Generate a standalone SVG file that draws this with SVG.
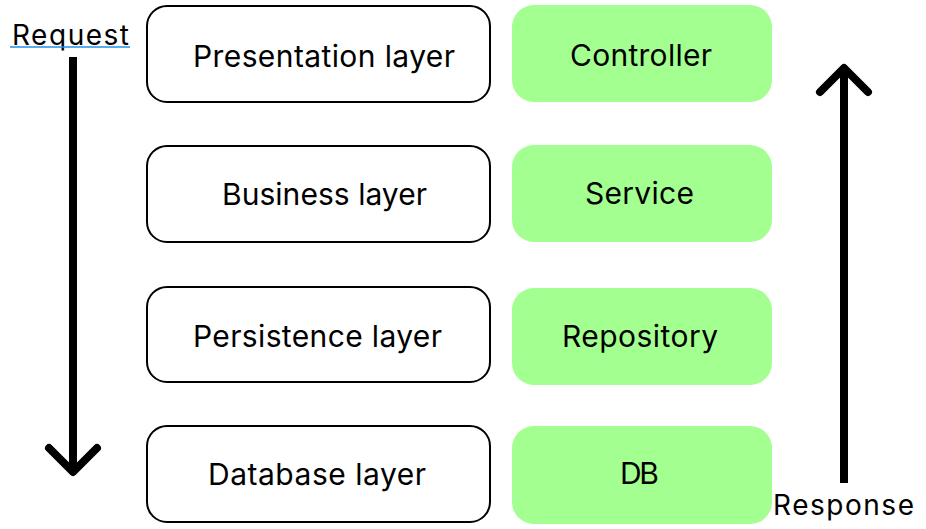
<svg xmlns="http://www.w3.org/2000/svg" width="926" height="529" viewBox="0 0 926 529">
  <style>
    text { font-family: Inter, "Noto Sans", "Liberation Sans", sans-serif; fill: #000; }
    .lbl { font-size: 30px; }
    .side { font-size: 28px; }
    .layer { fill: #ffffff; stroke: #000; stroke-width: 2; }
    .comp { fill: #a2ff90; stroke: none; }
    .arrow { fill: none; stroke: #000; stroke-width: 8; stroke-linecap: round; stroke-linejoin: round; }
    .stem { fill: none; stroke: #000; stroke-width: 8; stroke-linecap: butt; }
  </style>
  <rect width="926" height="529" fill="#ffffff"/>

  <g id="request-label">
    <text class="side" x="12" y="45" textLength="117" lengthAdjust="spacing">Request</text>
    <line x1="10" y1="47" x2="130" y2="47" stroke="#1e90e8" stroke-width="1.5"/>
  </g>
  <g id="response-label">
    <text class="side" x="773" y="515" textLength="141" lengthAdjust="spacing">Response</text>
  </g>

  <g id="presentation-layer">
    <rect class="layer" x="147" y="6" width="343" height="96" rx="20"/>
    <text class="lbl" x="193" y="67" textLength="262" lengthAdjust="spacing">Presentation layer</text>
  </g>
  <g id="business-layer">
    <rect class="layer" x="147" y="146" width="343" height="96" rx="20"/>
    <text class="lbl" x="222" y="205" textLength="205" lengthAdjust="spacing">Business layer</text>
  </g>
  <g id="persistence-layer">
    <rect class="layer" x="147" y="287" width="343" height="95" rx="20"/>
    <text class="lbl" x="193" y="347" textLength="249" lengthAdjust="spacing">Persistence layer</text>
  </g>
  <g id="database-layer">
    <rect class="layer" x="147" y="426" width="343" height="96" rx="20"/>
    <text class="lbl" x="208" y="485" textLength="218" lengthAdjust="spacing">Database layer</text>
  </g>

  <g id="controller">
    <rect class="comp" x="512" y="5" width="260" height="97" rx="22"/>
    <text class="lbl" x="570" y="66" textLength="142" lengthAdjust="spacing">Controller</text>
  </g>
  <g id="service">
    <rect class="comp" x="512" y="145" width="260" height="97" rx="22"/>
    <text class="lbl" x="585" y="204" textLength="109" lengthAdjust="spacing">Service</text>
  </g>
  <g id="repository">
    <rect class="comp" x="512" y="288" width="260" height="97" rx="22"/>
    <text class="lbl" x="562" y="347" textLength="156" lengthAdjust="spacing">Repository</text>
  </g>
  <g id="db">
    <rect class="comp" x="512" y="426" width="260" height="98" rx="22"/>
    <text class="lbl" x="620" y="484" textLength="39" lengthAdjust="spacing">DB</text>
  </g>

  <g id="connectors">
    <line class="stem" x1="73" y1="57" x2="73" y2="470"/>
    <polyline class="arrow" points="49,448 73,472 97,448"/>
    <line class="stem" x1="844" y1="70" x2="844" y2="483"/>
    <polyline class="arrow" points="820,92 844,68 868,92"/>
  </g>
</svg>
